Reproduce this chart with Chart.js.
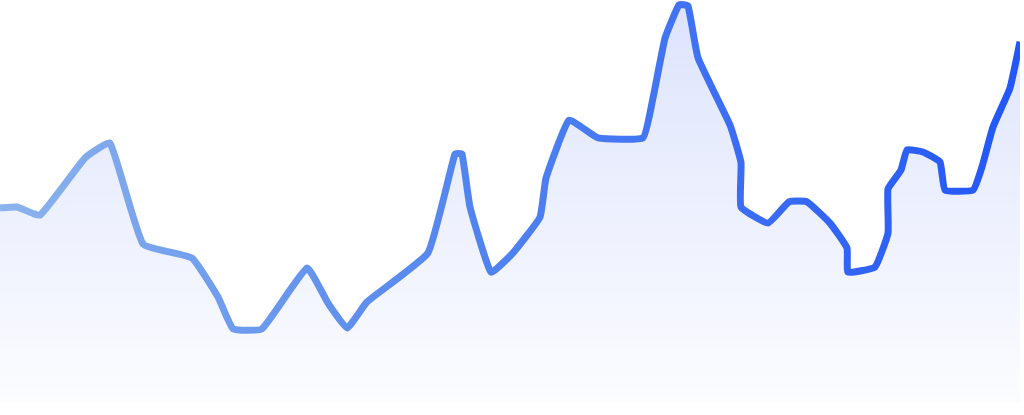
<!DOCTYPE html>
<html>
<head>
<meta charset="utf-8">
<script src="https://cdn.jsdelivr.net/npm/chart.js@4"></script>
<style>
  html, body { margin: 0; padding: 0; background: #ffffff; }
  #wrap { width: 1024px; height: 415px; }
</style>
</head>
<body>
<div id="wrap"><canvas id="c"></canvas></div>
<script>
// Time positions (arbitrary units) and values
const times = [0, 1.7, 4.0, 8.5, 11.0, 14.3, 19.2, 21.8, 23.3, 26.2, 30.7, 32.8, 34.7, 36.7, 42.8, 45.5, 46.2, 47.0, 49.1, 51.3, 54.0, 54.6, 56.9, 59.8, 64.3, 65.3, 66.5, 67.9, 68.8, 69.8, 73.0, 74.1, 74.1, 76.8, 78.9, 80.7, 83.0, 84.7, 84.8, 87.5, 88.8, 88.8, 90.1, 90.7, 92.3, 94.0, 94.5, 97.3, 98.2, 99.3, 101.0, 102.0];
const values = [48.3, 48.5, 46.5, 60.7, 64.4, 39.3, 35.8, 26.1, 18.2, 18.2, 33.3, 24.6, 18.4, 24.9, 37.1, 61.7, 61.7, 48.5, 32.3, 37.1, 46.0, 55.7, 70.1, 65.7, 65.7, 75.6, 90.5, 98.8, 98.5, 85.6, 68.9, 59.5, 48.5, 44.5, 49.8, 49.8, 44.5, 38.3, 32.3, 33.6, 42.0, 53.0, 57.7, 62.7, 62.2, 59.7, 52.7, 52.7, 58.5, 68.4, 78.1, 89.6];

const points = times.map((t, i) => ({ x: t, y: values[i] }));

function lineGradient(ctx) {
  const area = ctx.chart.chartArea;
  if (!area) return '#3b6cf2';
  const g = ctx.chart.ctx.createLinearGradient(area.left, 0, area.right, 0);
  g.addColorStop(0, '#8bb3ec');
  g.addColorStop(0.45, '#5385ef');
  g.addColorStop(1, '#2356fa');
  return g;
}
function fillGradient(ctx) {
  const area = ctx.chart.chartArea;
  if (!area) return 'rgba(60,100,240,0.1)';
  const g = ctx.chart.ctx.createLinearGradient(0, area.top, 0, area.bottom);
  g.addColorStop(0, 'rgba(70,105,240,0.19)');
  g.addColorStop(0.5, 'rgba(70,105,240,0.10)');
  g.addColorStop(1, 'rgba(70,105,240,0.02)');
  return g;
}

new Chart(document.getElementById('c'), {
  type: 'line',
  data: {
    datasets: [{
      data: points,
      borderColor: lineGradient,
      backgroundColor: fillGradient,
      borderWidth: 7,
      borderJoinStyle: 'round',
      borderCapStyle: 'butt',
      fill: 'start',
      tension: 0.12,
      pointRadius: 0,
      pointHoverRadius: 0
    }]
  },
  options: {
    responsive: true,
    maintainAspectRatio: false,
    animation: false,
    layout: { padding: { left: 0, right: 4, top: 0, bottom: 13 } },
    plugins: { legend: { display: false }, tooltip: { enabled: false } },
    scales: {
      x: { type: 'linear', min: 0, max: 102, display: false },
      y: { min: 0, max: 100, display: false }
    }
  }
});
</script>
</body>
</html>
